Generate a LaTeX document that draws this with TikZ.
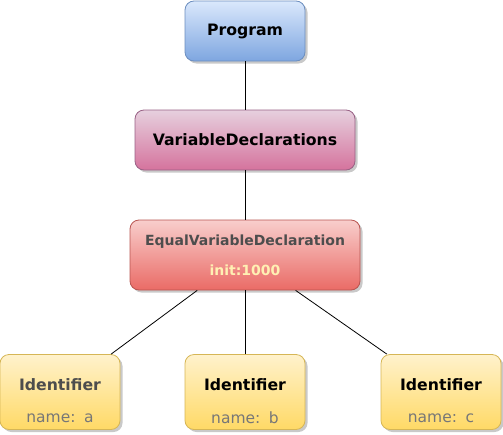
\documentclass[tikz,border=0pt]{standalone}
\usepackage{fontspec}
\setmainfont{DejaVu Sans}
\usetikzlibrary{shapes,positioning,shadows}
\definecolor{progTop}{HTML}{DAE8FC}
\definecolor{progBot}{HTML}{7EA6E0}
\definecolor{progLine}{HTML}{6C8EBF}
\definecolor{declTop}{HTML}{E6D0DE}
\definecolor{declBot}{HTML}{D5739D}
\definecolor{declLine}{HTML}{996185}
\definecolor{equTop}{HTML}{F8CECC}
\definecolor{equBot}{HTML}{EA6B66}
\definecolor{equLine}{HTML}{B85450}
\definecolor{idTop}{HTML}{FFF2CC}
\definecolor{idBot}{HTML}{FFD966}
\definecolor{idLine}{HTML}{D6B656}
\definecolor{darkText}{HTML}{4D4D4D}
\definecolor{nameText}{HTML}{777777}
\definecolor{initText}{HTML}{FFF0B3}

\begin{document}
\begin{tikzpicture}
  [x=1pt,y=-1pt,line width=0.8pt,
   astNode/.style={draw,rounded corners=9pt,
     drop shadow={shadow xshift=2.5pt,shadow yshift=-2.5pt,opacity=0.3,fill=black!70}},
   progN/.style={astNode,draw=progLine,top color=progTop,bottom color=progBot,
     minimum width=120pt,minimum height=60pt},
   declN/.style={astNode,draw=declLine,top color=declTop,bottom color=declBot,
     minimum width=220pt,minimum height=60pt},
   equN/.style={astNode,draw=equLine,top color=equTop,bottom color=equBot,
     minimum width=230pt,minimum height=70pt},
   idN/.style={astNode,draw=idLine,top color=idTop,bottom color=idBot,
     minimum width=120pt,minimum height=75pt},
   titleT/.style={font=\fontsize{15.7}{18}\selectfont\bfseries},
   smallT/.style={font=\fontsize{14}{17}\selectfont\bfseries},
   nameT/.style={font=\fontsize{15.5}{18}\selectfont,text=nameText},
  ]

 \useasboundingbox (0,0) rectangle (503,434);

 \node[progN] (prog) at (245,31) {};
 \node[titleT] (progT) at (245,31) {Program};

 \node[declN] (decl) at (245,140) {};
 \node[titleT] (declT) at (245,140) {VariableDeclarations};

 \node[equN] (equ) at (245,255) {};
 \node[smallT,text=darkText] (equT) at (245,242) {EqualVariableDeclaration};
 \node[smallT,text=initText] (equI) at (245,270) {init:1000};

 \node[idN] (idA) at (60,392) {};
 \node[idN] (idB) at (245,392) {};
 \node[idN] (idC) at (441,392) {};

 \node[titleT,text=darkText] (idAT) at (60,385) {Identifier};
 \node[titleT] (idBT) at (245,385) {Identifier};
 \node[titleT] (idCT) at (441,385) {Identifier};
 \node[nameT] (idAN) at (60,418) {name:\hspace{0.55em}a};
 \node[nameT] (idBN) at (245,418) {name:\hspace{0.55em}b};
 \node[nameT] (idCN) at (441,418) {name:\hspace{0.55em}c};

 % connectors
 \draw (prog) -- (decl);
 \draw (decl) -- (equ);
 \draw (equ) -- (idA);
 \draw (equ) -- (idB);
 \draw (equ) -- (idC);
\end{tikzpicture}
\end{document}
